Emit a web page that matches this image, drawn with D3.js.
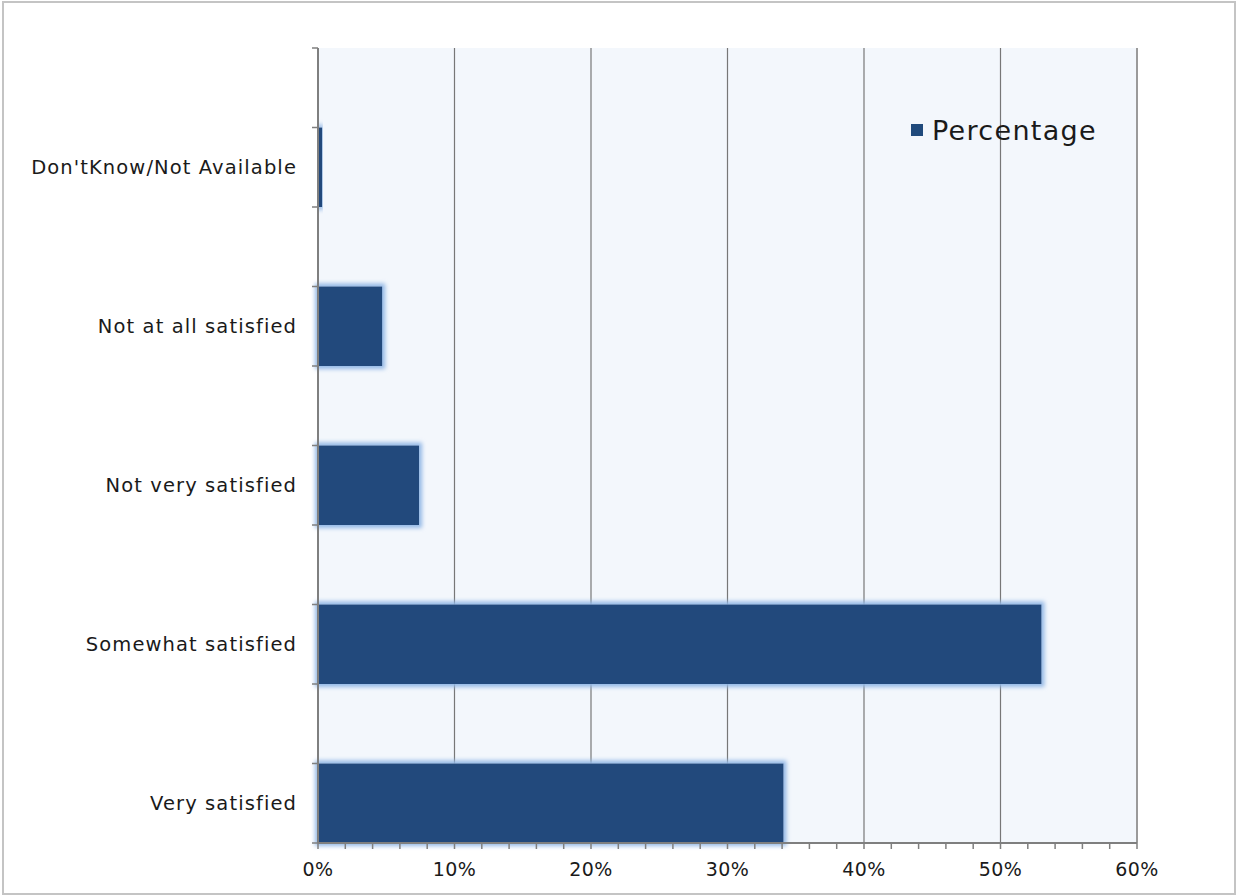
<!DOCTYPE html>
<html>
<head>
<meta charset="utf-8">
<script src="https://cdn.jsdelivr.net/npm/d3@7"></script>
<style>
  html, body { margin: 0; padding: 0; background: #ffffff; }
  svg { display: block; }
  text { font-family: "DejaVu Sans", sans-serif; fill: #1a1a1a; }
</style>
</head>
<body>
<svg id="chart" width="1237" height="896"></svg>
<script>
// Satisfaction survey responses (percent of respondents)
const categories = [
  "Don'tKnow/Not Available",
  "Not at all satisfied",
  "Not very satisfied",
  "Somewhat satisfied",
  "Very satisfied"
];
const percentages = [0.3, 4.7, 7.4, 53.0, 34.1];
const xTickValues = [0, 10, 20, 30, 40, 50, 60];
const seriesName = "Percentage";

const svg = d3.select("#chart");
const W = 1237, H = 896;
const plot = { left: 318, right: 1137, top: 48, bottom: 843 };

// outer frame
svg.append("rect")
  .attr("x", 3).attr("y", 2)
  .attr("width", W - 5).attr("height", H - 4)
  .attr("fill", "#ffffff")
  .attr("stroke", "#c4c4c4").attr("stroke-width", 2);

const x = d3.scaleLinear().domain([0, 60]).range([plot.left, plot.right]);
const y = d3.scaleBand().domain(categories).range([plot.top, plot.bottom]).paddingInner(0).paddingOuter(0);
const half = y.bandwidth() / 2;

// soft light-blue glow around bars
const defs = svg.append("defs");
const glow = defs.append("filter").attr("id", "glow")
  .attr("x", "-20%").attr("y", "-20%").attr("width", "140%").attr("height", "140%");
glow.append("feMorphology").attr("in", "SourceAlpha").attr("operator", "dilate").attr("radius", 2.5).attr("result", "grown");
glow.append("feGaussianBlur").attr("in", "grown").attr("stdDeviation", 2.2).attr("result", "blur");
glow.append("feFlood").attr("flood-color", "#93b8e6").attr("result", "col");
glow.append("feComposite").attr("in", "col").attr("in2", "blur").attr("operator", "in").attr("result", "halo");
const merge = glow.append("feMerge");
merge.append("feMergeNode").attr("in", "halo");
merge.append("feMergeNode").attr("in", "SourceGraphic");

// plot background
svg.append("rect")
  .attr("x", plot.left).attr("y", plot.top)
  .attr("width", plot.right - plot.left).attr("height", plot.bottom - plot.top)
  .attr("fill", "#f3f7fc");

// vertical gridlines
svg.append("g").selectAll("line")
  .data(xTickValues.filter(d => d > 0))
  .join("line")
  .attr("x1", d => x(d)).attr("x2", d => x(d))
  .attr("y1", plot.top).attr("y2", plot.bottom)
  .attr("stroke", d => d === 60 ? "#9a9a9a" : "#777777")
  .attr("stroke-width", d => d === 60 ? 2 : 1.2);

// bars sit in the lower half of each category band
svg.append("g").selectAll("rect")
  .data(categories.map((c, i) => ({ c, v: percentages[i] })))
  .join("rect")
  .attr("x", x(0))
  .attr("y", d => y(d.c) + half)
  .attr("width", d => x(d.v) - x(0))
  .attr("height", half)
  .attr("fill", "#204a7c")
  .attr("filter", "url(#glow)");

// y axis
const yAxis = svg.append("g").attr("stroke", "#7f7f7f");
yAxis.append("line")
  .attr("x1", plot.left).attr("x2", plot.left)
  .attr("y1", plot.top).attr("y2", plot.bottom)
  .attr("stroke-width", 2);
const yTicks = d3.range(categories.length * 2 + 1).map(i => plot.top + i * half);
yAxis.selectAll("line.tick")
  .data(yTicks)
  .join("line").attr("class", "tick")
  .attr("x1", plot.left - 6).attr("x2", plot.left)
  .attr("y1", d => d).attr("y2", d => d)
  .attr("stroke-width", 1.5);

svg.append("g").selectAll("text")
  .data(categories)
  .join("text")
  .attr("x", plot.left - 21)
  .attr("y", d => y(d) + half * 1.5)
  .attr("text-anchor", "end")
  .attr("dominant-baseline", "central")
  .attr("font-size", 19.5)
  .attr("letter-spacing", 1.1)
  .text(d => d);

// x axis
const xAxis = svg.append("g").attr("stroke", "#7f7f7f");
xAxis.append("line")
  .attr("x1", plot.left).attr("x2", plot.right)
  .attr("y1", plot.bottom).attr("y2", plot.bottom)
  .attr("stroke-width", 2);
xAxis.selectAll("line.tick")
  .data(d3.range(0, 61, 2))
  .join("line").attr("class", "tick")
  .attr("x1", d => x(d)).attr("x2", d => x(d))
  .attr("y1", plot.bottom).attr("y2", plot.bottom + 6)
  .attr("stroke-width", 1.5);

svg.append("g").selectAll("text")
  .data(xTickValues)
  .join("text")
  .attr("x", d => x(d))
  .attr("y", plot.bottom + 26)
  .attr("text-anchor", "middle")
  .attr("dominant-baseline", "central")
  .attr("font-size", 19)
  .attr("letter-spacing", 0.5)
  .text(d => d + "%");

// legend
const lg = svg.append("g").attr("transform", "translate(911,130)");
lg.append("rect").attr("x", 0).attr("y", -6).attr("width", 12).attr("height", 12).attr("fill", "#204a7c");
lg.append("text").attr("x", 21).attr("y", 0)
  .attr("dominant-baseline", "central")
  .attr("font-size", 27)
  .attr("letter-spacing", 1.3)
  .text(seriesName);
</script>
</body>
</html>
